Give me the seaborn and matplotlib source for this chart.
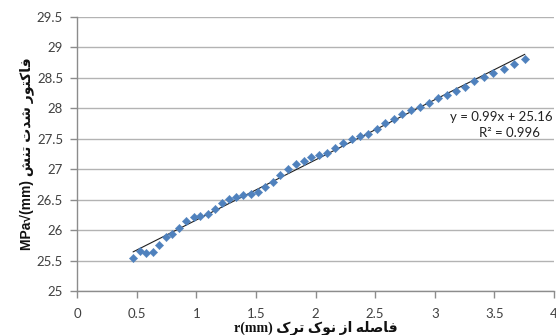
import matplotlib
matplotlib.use("Agg")
import matplotlib.pyplot as plt
import seaborn as sns
import pandas as pd

# ---- data ----
r_mm = [0.47, 0.525, 0.58, 0.634, 0.687, 0.749, 0.80, 0.857, 0.916, 0.977,
        1.033, 1.095, 1.153, 1.215, 1.276, 1.335, 1.396, 1.458, 1.519, 1.58,
        1.645, 1.706, 1.77, 1.84, 1.905, 1.963, 2.03, 2.10, 2.167, 2.234,
        2.304, 2.374, 2.443, 2.516, 2.586, 2.656, 2.728, 2.80, 2.876, 2.949,
        3.024, 3.10, 3.175, 3.25, 3.33, 3.41, 3.49, 3.58, 3.66, 3.755]
k_val = [25.54, 25.66, 25.62, 25.64, 25.76, 25.88, 25.93, 26.04, 26.15, 26.21,
         26.23, 26.27, 26.35, 26.44, 26.51, 26.54, 26.58, 26.60, 26.63, 26.71,
         26.79, 26.90, 27.00, 27.09, 27.14, 27.20, 27.23, 27.27, 27.35, 27.43,
         27.50, 27.55, 27.58, 27.66, 27.75, 27.83, 27.90, 27.97, 28.02, 28.09,
         28.16, 28.22, 28.28, 28.35, 28.44, 28.51, 28.58, 28.65, 28.72, 28.81]
x_ticks = [0, 0.5, 1, 1.5, 2, 2.5, 3, 3.5, 4]
x_tick_labels = ["0", "0.5", "1", "1.5", "2", "2.5", "3", "3.5", "4"]
y_ticks = [25, 25.5, 26, 26.5, 27, 27.5, 28, 28.5, 29, 29.5]
y_tick_labels = ["25", "25.5", "26", "26.5", "27", "27.5", "28", "28.5", "29", "29.5"]
eq_text = "y = 0.99x + 25.16"
r2_text = "R\u00b2 = 0.996"
x_label_fa = "فاصله از نوک ترک"
x_label_en = "r(mm)"
y_label_fa = "فاکتور شدت تنش"
y_label_en = "MPa\u221a(mm)"

# ---- minimal Persian shaping for display (matplotlib has no bidi/shaping) ----
FORMS = {
    'ا': (0xFE8D, 0xFE8E, None, None),
    'د': (0xFEA9, 0xFEAA, None, None),
    'ر': (0xFEAD, 0xFEAE, None, None),
    'ز': (0xFEAF, 0xFEB0, None, None),
    'و': (0xFEED, 0xFEEE, None, None),
    'ت': (0xFE95, 0xFE96, 0xFE97, 0xFE98),
    'ش': (0xFEB5, 0xFEB6, 0xFEB7, 0xFEB8),
    'ص': (0xFEB9, 0xFEBA, 0xFEBB, 0xFEBC),
    'ف': (0xFED1, 0xFED2, 0xFED3, 0xFED4),
    'ل': (0xFEDD, 0xFEDE, 0xFEDF, 0xFEE0),
    'ن': (0xFEE5, 0xFEE6, 0xFEE7, 0xFEE8),
    'ه': (0xFEE9, 0xFEEA, 0xFEEB, 0xFEEC),
    'ک': (0xFB8E, 0xFB8F, 0xFB90, 0xFB91),
}


def shape_rtl(text):
    out = []
    n = len(text)
    for i, ch in enumerate(text):
        if ch not in FORMS:
            out.append(ch)
            continue
        f = FORMS[ch]
        prev = text[i - 1] if i > 0 else None
        nxt = text[i + 1] if i < n - 1 else None
        join_prev = prev in FORMS and FORMS[prev][2] is not None
        join_next = nxt in FORMS and f[2] is not None
        if join_prev and join_next:
            code = f[3]
        elif join_prev:
            code = f[1]
        elif join_next:
            code = f[2]
        else:
            code = f[0]
        out.append(chr(code))
    return "".join(reversed(out))


df = pd.DataFrame({"r": r_mm, "K": k_val})

sns.set_theme(style="white")
plt.rcParams["font.family"] = ["Lato", "DejaVu Sans"]

fig = plt.figure(figsize=(5.56, 3.35), dpi=100)
ax = fig.add_axes([0.1385, 0.131, 0.858, 0.819])

sns.regplot(data=df, x="r", y="K", ax=ax, ci=None, scatter=False,
            line_kws=dict(color="#202020", lw=0.8), truncate=True)
sns.scatterplot(data=df, x="r", y="K", ax=ax, marker="D", s=18,
                color="#4F81BD", edgecolor="#4F81BD", linewidth=0.3, zorder=3)

ax.set_xlim(0, 4)
ax.set_ylim(25, 29.5)
ax.set_xticks(x_ticks)
ax.set_xticklabels(x_tick_labels)
ax.set_yticks(y_ticks)
ax.set_yticklabels(y_tick_labels)
ax.yaxis.grid(True, color="#B3B3B3", lw=1.0)
ax.xaxis.grid(False)
ax.set_axisbelow(True)
for s in ["top", "right"]:
    ax.spines[s].set_visible(False)
for s in ["left", "bottom"]:
    ax.spines[s].set_color("#8C8C8C")
    ax.spines[s].set_linewidth(1.0)
ax.tick_params(axis="both", which="major", labelsize=9.5, colors="#404040",
               length=5, width=1.0, direction="out")
ax.tick_params(axis="y", pad=5, color="#8C8C8C")
ax.tick_params(axis="x", pad=7, color="#8C8C8C")
ax.tick_params(left=True, bottom=True)

ax.set_xlabel(x_label_en + " " + shape_rtl(x_label_fa),
              family=["Liberation Serif", "DejaVu Sans"], fontweight="bold",
              fontsize=10, color="#111111", labelpad=0)
ax.set_ylabel(y_label_en + " " + shape_rtl(y_label_fa),
              family=["Liberation Sans", "DejaVu Sans"], fontweight="bold",
              fontsize=10, color="#111111", labelpad=2)

ax.text(3.99, 27.86, eq_text, fontsize=9.5, color="#222222", ha="right", va="center")
ax.text(3.63, 27.60, r2_text, fontsize=9.5, color="#222222", ha="center", va="center")

fig.savefig("out.png", dpi=100, facecolor="white")
